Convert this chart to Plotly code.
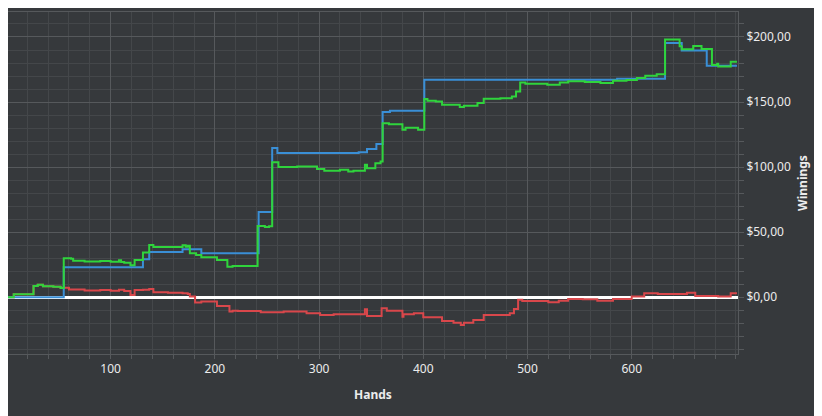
import plotly.graph_objects as go

# all-in EV (blue)
ev_hands = [1, 55, 131, 137, 169, 187, 242, 255, 260, 338, 346, 355, 361, 368, 401, 586, 632, 648, 672, 701]
ev_vals = [0, 23.1, 29.2, 34.8, 36.9, 33.8, 65.6, 114.6, 110.8, 111.5, 114, 117.7, 142.3, 143.3, 167.2, 168, 195.3, 189.7, 177.9, 177.9]

# net won (green)
won_hands = [1, 7, 26, 30, 35, 45, 52, 55, 62, 64, 75, 90, 100, 108, 110, 113, 119, 123, 131, 137,
             141, 169, 172, 174, 176, 182, 187, 202, 212, 217, 241, 248, 252, 255, 261, 279, 298, 305,
             320, 328, 333, 344, 346, 354, 359, 361, 367, 380, 383, 395, 401, 404, 412, 418, 421, 435,
             439, 452, 458, 474, 485, 489, 493, 498, 519, 531, 539, 555, 570, 582, 595, 605, 613, 624,
             632, 646, 648, 659, 667, 677, 682, 683, 695, 701]
won_vals = [0, 2.3, 8.7, 9.7, 8.5, 8, 7.2, 30, 29.5, 28, 27.5, 27.8, 27.3, 28.5, 27, 26.6, 24.6, 28.7, 34.3, 40.2,
            38.7, 40, 38.8, 39.5, 33.8, 32.5, 30.8, 28.7, 23.5, 24, 54.8, 54, 54.6, 103.8, 100, 100.5, 98.5, 97.2,
            97.9, 96.6, 97.2, 101.8, 99.2, 103, 104.3, 133.8, 133, 128.7, 130.2, 128.7, 152.3, 151, 150.5, 147.9, 148, 146.2,
            147.2, 149.2, 152.5, 153, 154.3, 158.2, 165, 164, 163.3, 165, 165.9, 165.4, 164.6, 166.4, 167, 168.5, 170.2, 171.4,
            198, 192.8, 190.5, 193, 190.8, 178.5, 179.5, 177.4, 181, 181]

# luck (red)
luck_hands = [1, 7, 26, 30, 35, 45, 52, 55, 60, 75, 90, 100, 108, 113, 119, 123, 131, 137, 141, 155,
              169, 174, 176, 181, 187, 202, 214, 217, 222, 244, 266, 288, 301, 314, 344, 346, 360, 365,
              380, 381, 391, 400, 418, 429, 436, 439, 448, 458, 483, 487, 491, 495, 520, 530, 539, 553,
              567, 582, 600, 612, 625, 653, 661, 683, 695, 701]
luck_vals = [0, 2.3, 8.7, 9.7, 8.5, 8, 7.2, 7.4, 6, 5.2, 5.6, 5, 5.8, 4.8, 1.8, 5.6, 5.8, 6.4, 3.8, 3.5,
             3, 2.5, 0.5, -4.1, -3.3, -6.7, -11, -10.3, -10.5, -11.5, -11, -12.3, -13.6, -13, -9.2, -14.4, -8.5, -10.3,
             -14.9, -13, -12.3, -15.4, -18.2, -19.5, -21.3, -19.5, -17.4, -13.6, -12.3, -9, -2, -2.8, -3.8, -2.6, -1.3, -1.5,
             -2.6, -1.3, 0.5, 3, 2.5, 3.5, 1, 0.5, 3, 3]

hand_ticks = [100, 200, 300, 400, 500, 600]

bg = '#36393c'
major = '#56595c'
minor = '#44474a'
txt = '#ececec'

fig = go.Figure()
fig.add_trace(go.Scatter(x=luck_hands, y=luck_vals, mode='lines', line_shape='hv',
                         line=dict(color='#d9474b', width=2), name='Luck'))
fig.add_trace(go.Scatter(x=ev_hands, y=ev_vals, mode='lines', line_shape='hv',
                         line=dict(color='#3a8fd6', width=2), name='All-in EV'))
fig.add_trace(go.Scatter(x=won_hands, y=won_vals, mode='lines', line_shape='hv',
                         line=dict(color='#2fd43c', width=2), name='Net won'))

# page body has an 8px margin, so the figure is a bit smaller than the window
fig.update_layout(
    width=814, height=408,
    paper_bgcolor=bg, plot_bgcolor=bg,
    margin=dict(l=0, r=84, t=4, b=62),
    showlegend=False,
    separators=',.',
    font=dict(family='Noto Sans', size=12, color=txt),
)
fig.update_xaxes(
    range=[1.5, 702], tickmode='array', tickvals=hand_ticks,
    showgrid=True, gridcolor=major, gridwidth=1,
    ticks='outside', ticklen=4, tickcolor=major,
    minor=dict(tick0=0, dtick=20, showgrid=True, gridcolor=minor, ticks='outside', ticklen=4, tickcolor=major),
    showline=True, linecolor=major, mirror=True, zeroline=False,
    title=dict(text='<b>Hands</b>', font=dict(size=12, color=txt), standoff=14),
)
fig.update_yaxes(
    range=[-43.6, 219.2], dtick=50, tick0=0, side='right',
    tickprefix='$', tickformat='.2f',
    showgrid=True, gridcolor=major, gridwidth=1,
    ticks='outside', ticklen=5, tickcolor=major,
    minor=dict(dtick=10, showgrid=True, gridcolor=minor, ticks='outside', ticklen=5, tickcolor=major),
    showline=True, linecolor=major, mirror=True,
    zeroline=True, zerolinecolor='white', zerolinewidth=3,
    title=dict(text='<b>Winnings</b>', font=dict(size=12, color=txt), standoff=8),
)

fig.write_html("out.html")
